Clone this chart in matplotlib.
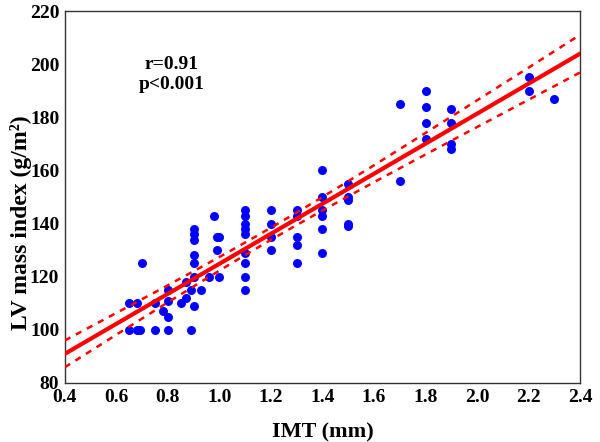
import numpy as np
import matplotlib
matplotlib.use('Agg')
import matplotlib.pyplot as plt

plt.rcParams['font.family'] = ['Liberation Serif', 'DejaVu Serif']
plt.rcParams['font.weight'] = 'bold'

# IMT (mm) and LV mass index (g/m2)
imt = [0.65, 0.68, 0.69, 0.75, 0.80, 0.89,
       0.65, 0.68, 0.75, 0.85, 0.87, 0.90,
       0.78, 0.80, 0.80, 0.80, 0.70,
       0.87, 0.89, 0.90, 0.93,
       0.90, 0.90, 0.90, 0.90, 0.90,
       0.96, 1.00,
       0.98, 0.99, 1.00, 0.99,
       1.10, 1.10, 1.10, 1.10, 1.10, 1.10, 1.10, 1.10, 1.10,
       1.20, 1.20, 1.20, 1.20,
       1.30, 1.30, 1.30, 1.30, 1.30,
       1.40, 1.40, 1.40, 1.40, 1.40, 1.40,
       1.50, 1.50, 1.50, 1.50, 1.50,
       1.70, 1.70,
       1.80, 1.80, 1.80, 1.80,
       1.90, 1.90, 1.90, 1.90,
       2.20, 2.20, 2.30]
lvmi = [100, 100, 100, 100, 100, 100,
        110, 110, 110, 110, 112, 109,
        107, 105, 111, 115, 125,
        118, 115, 120, 115,
        138, 136, 134, 128, 125,
        120, 120,
        143, 135, 135, 130,
        145, 143, 140, 138, 136, 129, 125, 120, 115,
        145, 140, 135, 130,
        145, 143, 135, 132, 125,
        160, 150, 145, 143, 138, 129,
        155, 150, 149, 140, 139,
        185, 156,
        190, 184, 178, 172,
        183, 178, 170, 168,
        195, 190, 187]

x = np.array(imt)
y = np.array(lvmi)
n = len(x)
slope, intercept = np.polyfit(x, y, 1)
resid = y - (intercept + slope * x)
s = np.sqrt(np.sum(resid ** 2) / (n - 2))
sxx = np.sum((x - x.mean()) ** 2)

xs = np.linspace(0.4, 2.4, 200)
fit = intercept + slope * xs
# 95% confidence band of the regression line
half = 1.995 * s * np.sqrt(1.0 / n + (xs - x.mean()) ** 2 / sxx)

fig = plt.figure(figsize=(6, 4.42), dpi=100)
ax = fig.add_axes([0.108, 0.1335, 0.859, 0.8415])

ax.scatter(x, y, s=42, color='#0000ff', zorder=2, linewidths=0)
ax.plot(xs, fit, color='#ff0000', lw=3, zorder=3)
ax.plot(xs, fit + half, color='#ff0000', lw=1.8, ls=(0, (2.5, 2.5)), zorder=3)
ax.plot(xs, fit - half, color='#ff0000', lw=1.8, ls=(0, (2.5, 2.5)), zorder=3)

ax.set_xlim(0.4, 2.4)
ax.set_ylim(80, 220)
ax.set_xticks(np.arange(0.4, 2.41, 0.2))
ax.set_xticklabels(['%.1f' % v for v in np.arange(0.4, 2.41, 0.2)])
ax.set_yticks(np.arange(80, 221, 20))
ax.tick_params(length=0, labelsize=14, pad=4)
for sp in ax.spines.values():
    sp.set_color('#333333')
    sp.set_linewidth(1)

ax.set_xlabel('IMT (mm)', fontsize=16, fontweight='bold', labelpad=12)
ax.set_ylabel('LV mass index (g/m²)', fontsize=17, fontweight='bold')
ax.yaxis.set_label_coords(-0.064, 0.43)

ax.text(0.815, 200, 'r=0.91', ha='center', va='center', fontsize=14, fontweight='bold')
ax.text(0.815, 192.3, 'p<0.001', ha='center', va='center', fontsize=14, fontweight='bold')

fig.savefig('out.png', dpi=100)
